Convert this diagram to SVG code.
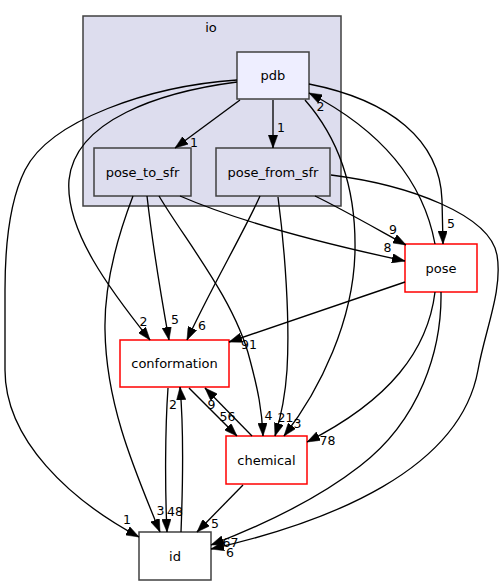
<svg xmlns="http://www.w3.org/2000/svg" width="502" height="585" viewBox="0 0 502 585">
<style>
text{font-family:"DejaVu Sans","Liberation Sans",sans-serif;font-size:13px;fill:#000}
.n{text-anchor:middle}
.l{text-anchor:middle;font-size:12.5px}
.e{fill:none;stroke:#000;stroke-width:1.33;marker-end:url(#ah)}
.g{stroke:#404040;stroke-width:1.5}
.r{fill:#fff;stroke:#ff0000;stroke-width:1.5}
</style>
<defs>
<marker id="ah" viewBox="0 0 13 9.4" refX="13" refY="4.7" markerWidth="13" markerHeight="9.4" markerUnits="userSpaceOnUse" orient="auto">
<path d="M0,0 L13,4.7 L0,9.4 z" fill="#000" stroke="#000" stroke-width="0.5"/>
</marker>
</defs>
<rect width="502" height="585" fill="#fff"/>
<g id="cluster_io">
<rect x="83" y="16" width="258" height="190" fill="#ddddee" class="g"/>
<text class="n" x="211" y="32">io</text>
</g>
<g id="pdb">
<rect x="237" y="52" width="72" height="47" fill="#eeeeff" class="g"/>
<text class="n" x="273" y="79.5">pdb</text>
</g>
<g id="pose_to_sfr">
<rect x="94" y="148" width="97" height="48" fill="#ddddee" class="g"/>
<text class="n" x="142.5" y="176.5">pose_to_sfr</text>
</g>
<g id="pose_from_sfr">
<rect x="216" y="148" width="114" height="48" fill="#ddddee" class="g"/>
<text class="n" x="273" y="176.5">pose_from_sfr</text>
</g>
<g id="pose">
<rect x="405" y="244" width="72" height="48" class="r"/>
<text class="n" x="441" y="272.5">pose</text>
</g>
<g id="conformation">
<rect x="120" y="340" width="109" height="47" class="r"/>
<text class="n" x="174.5" y="367.5">conformation</text>
</g>
<g id="chemical">
<rect x="226" y="436" width="81" height="48" class="r"/>
<text class="n" x="266.5" y="464.5">chemical</text>
</g>
<g id="id">
<rect x="139" y="532" width="72" height="48" fill="#fff" class="g"/>
<text class="n" x="175" y="560.5">id</text>
</g>
<g id="edges">
<path class="e" d="M240,100 L175,148"/>
<text class="l" x="194" y="147">1</text>
<path class="e" d="M273,100 L273,148"/>
<text class="l" x="281" y="132">1</text>
<path class="e" d="M237,82 C160,92 75,120 69,180 C65,230 110,290 150,340"/>
<text class="l" x="143.5" y="326">2</text>
<path class="e" d="M237,80 C150,86 50,120 25,170 C10,200 5,240 5,290 L5,370 C5,440 70,500 139,537"/>
<text class="l" x="127" y="524">1</text>
<path class="e" d="M305,100 C340,140 356,190 355,250 C354,320 320,390 284,436"/>
<text class="l" x="297.5" y="428">3</text>
<path class="e" d="M435,244 C425,190 390,135 309,93"/>
<text class="l" x="320.5" y="111">2</text>
<path class="e" d="M309,84 C390,100 440,140 442,200 L443,244"/>
<text class="l" x="451" y="228">5</text>
<path class="e" d="M180,196 C240,222 330,245 405,261"/>
<text class="l" x="387.5" y="252">8</text>
<path class="e" d="M315,196 C340,208 375,228 406,245"/>
<text class="l" x="393" y="234">9</text>
<path class="e" d="M331,175 C410,185 490,215 497,255 C503,290 485,330 478,370 C460,470 330,522 211,549"/>
<text class="l" x="230" y="556.5">6</text>
<path class="e" d="M441,292 C442,350 420,420 360,466 C310,505 250,530 211,545"/>
<text class="l" x="230.5" y="546.5">67</text>
<path class="e" d="M435,292 C428,350 390,400 307,442"/>
<text class="l" x="327.5" y="445">78</text>
<path class="e" d="M405,282 L229,342"/>
<text class="l" x="249" y="348.5">91</text>
<path class="e" d="M147,196 C152,240 160,290 169,340"/>
<text class="l" x="175" y="324">5</text>
<path class="e" d="M260,196 C245,230 210,290 187,340"/>
<text class="l" x="202" y="330">6</text>
<path class="e" d="M159,196 C185,240 235,300 250,360 C258,390 262,410 263,436"/>
<text class="l" x="268.5" y="420">4</text>
<path class="e" d="M278,197 C285,250 290,320 287,370 C285,400 280,420 275,436"/>
<text class="l" x="285.5" y="422">21</text>
<path class="e" d="M133,196 C120,230 104,280 105,330 C106,400 130,460 160,532"/>
<text class="l" x="160.5" y="515">3</text>
<path class="e" d="M168,388 C165,430 165,490 167,532"/>
<text class="l" x="175" y="515.5">48</text>
<path class="e" d="M181,532 C183,480 184,430 180,387"/>
<text class="l" x="173" y="409">2</text>
<path class="e" d="M189,388 L237,436"/>
<text class="l" x="227.5" y="420.5">56</text>
<path class="e" d="M252,436 L205,388"/>
<text class="l" x="211.5" y="408.5">9</text>
<path class="e" d="M243,485 L197,532"/>
<text class="l" x="215" y="527.5">5</text>
</g>
</svg>
